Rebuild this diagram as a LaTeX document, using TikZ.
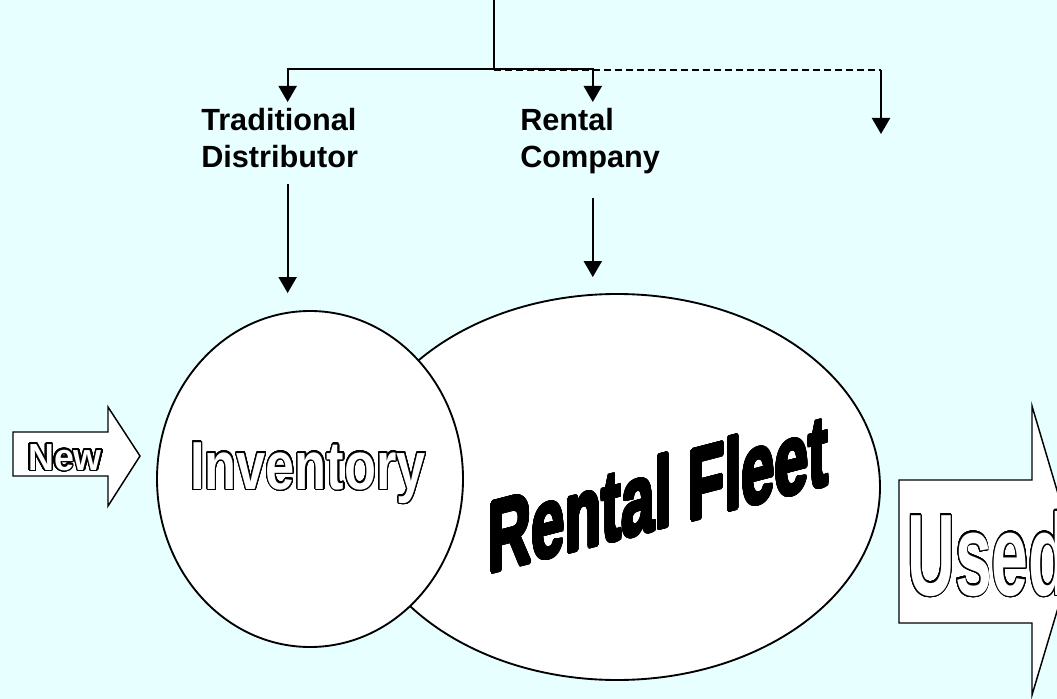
\documentclass[tikz,border=0pt]{standalone}
\usepackage{fontspec}
\setmainfont{Liberation Sans}
\usepackage{graphicx}
\usepackage[copies]{contour}
\usetikzlibrary{arrows.meta,shapes.geometric}
\definecolor{paper}{RGB}{232,255,255}
\contourlength{1.1pt}
\contournumber{32}
\def\hollow#1{\contour{black}{\textcolor{white}{#1}}}
\def\heavy#1{{\contourlength{1.6pt}\contour{black}{#1}}}
\tikzset{
	lbl/.style={font=\bfseries\fontsize{23}{27.75}\selectfont, align=left, inner sep=0pt, anchor=north west},
	wire/.style={line width=1.5pt},
	flow/.style={wire, -{Triangle[length=12pt,width=13.5pt]}},
	blob/.style={draw, fill=white, line width=1.4pt, ellipse, inner sep=0pt},
	big/.style={inner sep=0pt, font=\bfseries},
	shaft/.style={draw, fill=white, line width=1.1pt, line join=miter}
}

\begin{document}
\begin{tikzpicture}[x=0.75pt,y=-0.75pt]
				\fill[paper] (0,0) rectangle (1057,699);
				\useasboundingbox (0,0) rectangle (1057,699);
				\clip (0,0) rectangle (1057,699);
				
				\coordinate (src) at (494,0);
				\coordinate (bus) at (494,69);
				\coordinate (corner) at (881,70);
				\coordinate (spare) at (881,134);
				
				\node[lbl] (trad) at (201,108) {Traditional\\Distributor};
				\node[lbl] (rent) at (520,108) {Rental\\Company};
				\coordinate (tradhead) at ([xshift=6pt]trad.north);
				\coordinate (tradfoot) at ([xshift=6pt]trad.south);
				\coordinate (renthead) at ([xshift=2pt]rent.north);
				\coordinate (rentfoot) at ([xshift=2pt]rent.south);
				
				\node[blob, minimum width=394.5pt, minimum height=289.5pt] (fleet) at (617,487) {};
				\node[blob, minimum width=229.5pt, minimum height=252pt] (inv) at (310,479) {};
				
				\draw[wire] (src) -- (bus);
				\draw[flow, shorten >=4.5pt] (bus) -| (tradhead);
				\draw[flow, shorten >=4.5pt] (bus) -| (renthead);
				\draw[wire, dash pattern=on 5.25pt off 3pt] (bus |- corner) -- (corner);
				\draw[flow] (corner) -- (spare);
				\draw[flow, shorten <=12pt, shorten >=12.75pt] (tradfoot) -- (tradfoot |- inv.north);
				\draw[flow, shorten <=18pt, shorten >=12pt] (rentfoot) -- (rentfoot |- fleet.north);
				
				\node[big, anchor=base] (invtxt) at (308,489) {\fontsize{51}{51}\selectfont\scalebox{0.77}[1]{\hollow{Inventory}}};
				
				\begin{scope}[shift={(488,573)}]
					\node[big, anchor=base west, yslant=0.26, transform shape] (fleettxt) at (0,0) {\fontsize{75}{75}\selectfont\scalebox{0.6}[1]{\heavy{Rental Fleet}}};
				\end{scope}
				
				\draw[shaft] (13,432) -- (108,432) -- (108,407) -- (140,456) -- (108,506) -- (108,476) -- (13,476) -- cycle;
				\node[big, anchor=base] (newtxt) at (65,470) {\fontsize{28.3}{28.3}\selectfont\scalebox{0.95}[1]{\hollow{New}}};
				
				\draw[shaft] (899,480) -- (1032,480) -- (1032,406) -- (1075,551) -- (1032,695) -- (1032,623) -- (899,623) -- cycle;
				\node[big, anchor=base west] (usedtxt) at (907,595) {\fontsize{87}{87}\selectfont\scalebox{0.57}[1]{\hollow{Used}}};
\end{tikzpicture}
\end{document}
